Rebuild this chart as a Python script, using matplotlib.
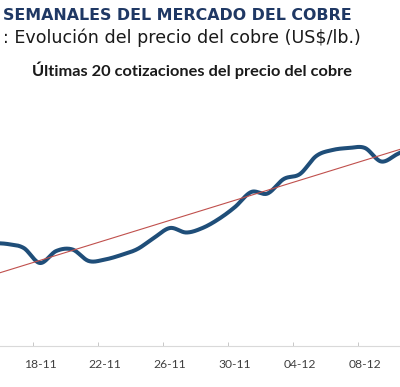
import numpy as np
import matplotlib
matplotlib.use("Agg")
import matplotlib.pyplot as plt

# fechas diarias (eje de categorias), 18-11 en el indice 0
fechas = ["15-11", "16-11", "17-11", "18-11", "19-11", "20-11", "21-11", "22-11",
          "23-11", "24-11", "25-11", "26-11", "27-11", "28-11", "29-11", "30-11",
          "01-12", "02-12", "03-12", "04-12", "05-12", "06-12", "07-12", "08-12",
          "09-12", "10-12", "11-12"]
precio = [3.203, 3.202, 3.198, 3.183, 3.195, 3.1965, 3.185, 3.1865,
          3.191, 3.197, 3.208, 3.218, 3.2135, 3.218, 3.227, 3.239,
          3.254, 3.2525, 3.267, 3.272, 3.290, 3.296, 3.298, 3.298,
          3.2845, 3.292, 3.300]
etiquetas = ["18-11", "22-11", "26-11", "30-11", "04-12", "08-12"]

x = np.arange(len(fechas)) - fechas.index("18-11")
y = np.array(precio)


def suavizar(px, py, n=30):
    # curva bezier tipo "linea suavizada" de Excel (catmull-rom 1/6)
    pts = np.column_stack([px, py])
    pts_ext = np.vstack([pts[0], pts, pts[-1]])
    xs, ys = [], []
    t = np.linspace(0, 1, n)
    for i in range(len(pts) - 1):
        p0, p1, p2, p3 = pts_ext[i], pts_ext[i + 1], pts_ext[i + 2], pts_ext[i + 3]
        c1 = p1 + (p2 - p0) / 6.0
        c2 = p2 - (p3 - p1) / 6.0
        b = ((1 - t) ** 3)[:, None] * p1 + (3 * (1 - t) ** 2 * t)[:, None] * c1 \
            + (3 * (1 - t) * t ** 2)[:, None] * c2 + (t ** 3)[:, None] * p2
        xs.append(b[:, 0])
        ys.append(b[:, 1])
    return np.concatenate(xs), np.concatenate(ys)


fig = plt.figure(figsize=(4.0, 3.87), dpi=100)
ax = fig.add_axes([0, 41 / 387, 1, 216 / 387])

sx, sy = suavizar(x, y)
ax.plot(sx, sy, color="#1f4e79", lw=2.9, solid_capstyle="round", zorder=3)

# linea de tendencia lineal
m, b = np.polyfit(x, y, 1)
xt = np.array([x[0], x[-1]])
ax.plot(xt, m * xt + b, color="#c0504d", lw=0.8, zorder=4)

ax.set_xlim(-40 / 16.25, 360 / 16.25)
ax.set_ylim(3.10, 3.316)

pos = [fechas.index(e) - fechas.index("18-11") for e in etiquetas]
ax.set_xticks(pos)
ax.set_xticklabels(etiquetas, family="Lato", fontsize=8.7, color="#404040")
ax.set_xticks([p - 0.45 for p in pos], minor=True)
ax.tick_params(axis="x", which="major", length=0, pad=9)
ax.tick_params(axis="x", which="minor", direction="in", length=3, color="#bfbfbf")
ax.set_yticks([])
for s in ["top", "right", "left"]:
    ax.spines[s].set_visible(False)
ax.spines["bottom"].set_color("#d9d9d9")
ax.patch.set_alpha(0)

fig.text(3 / 400, 1 - 15 / 387, "SEMANALES DEL MERCADO DEL COBRE", family="DejaVu Sans",
         fontsize=11.45, fontweight="bold", color="#1f3864", va="center", ha="left")
fig.text(3 / 400, 1 - 38 / 387, ": Evolución del precio del cobre (US$/lb.)",
         family="DejaVu Sans", fontsize=12.6, color="#1a1a1a", va="center", ha="left")
fig.text(192 / 400, 1 - 70 / 387, "Últimas 20 cotizaciones del precio del cobre",
         family="Lato", fontsize=11.8, fontweight="bold", color="#1a1a1a",
         va="center", ha="center")

fig.savefig("out.png", dpi=100)
